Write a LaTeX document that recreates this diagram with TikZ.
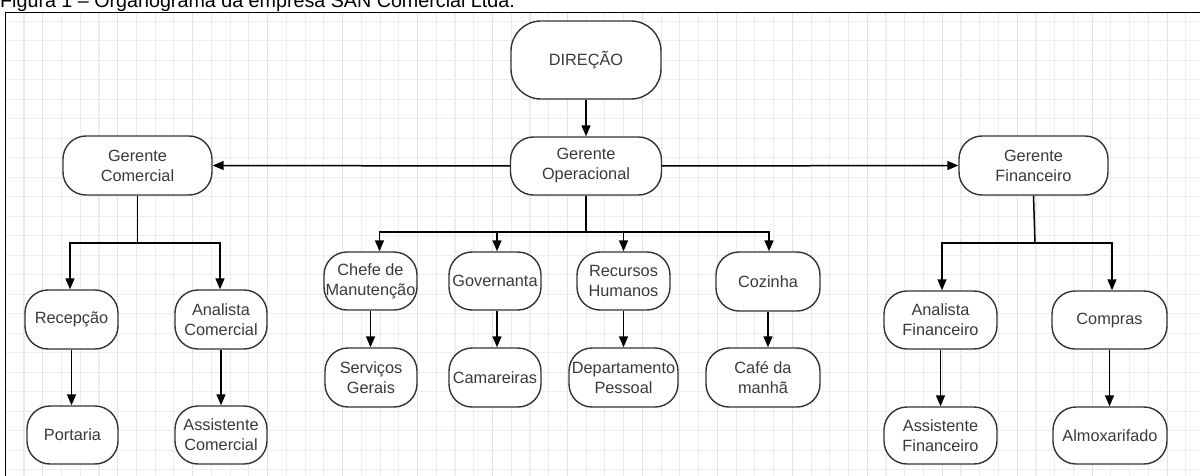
\documentclass[tikz,border=0pt]{standalone}
\usepackage{fontspec}
\setmainfont{Liberation Sans}
\usetikzlibrary{arrows.meta}
\definecolor{gridmin}{HTML}{EDEDED}
\definecolor{gridmaj}{HTML}{E2E2E2}
\definecolor{boxline}{HTML}{333333}
\definecolor{txt}{HTML}{3A3A3A}
\tikzset{
  orgbox/.style={draw=boxline, line width=1.4pt, fill=white, rounded corners=23pt,
    inner sep=0pt, align=center, text=txt,
    font=\fontsize{16.3}{20}\selectfont},
  link/.style={line width=1.5pt, draw=black},
  arr/.style={link, -{Triangle[length=11pt,width=9pt]}},
}
\begin{document}
\begin{tikzpicture}[x=1pt,y=-1pt]
\useasboundingbox (0,0) rectangle (1200,476);
\clip (0,0) rectangle (1200,476);
\fill[white] (0,0) rectangle (1200,476);
% grid
\foreach \i in {0,...,63} {
  \pgfmathsetmacro{\xx}{24+18.74*\i}
  \pgfmathtruncatemacro{\m}{mod(\i,4)}
  \ifnum\m=1
    \draw[gridmaj, line width=1.2pt] (\xx,12) -- (\xx,476);
  \else
    \draw[gridmin, line width=1.1pt] (\xx,12) -- (\xx,476);
  \fi
}
\foreach \j in {0,...,23} {
  \pgfmathsetmacro{\yy}{21.3+19.5*\j}
  \draw[gridmin, line width=1.1pt] (5,\yy) -- (1200,\yy);
}
% frame
\draw[black, line width=1pt] (5,476) -- (5,12.5) -- (1200,12.5);
% title
\node[anchor=base west, inner sep=0pt, font=\fontsize{19.7}{22}\selectfont] (title) at (0,7.5) {Figura 1 – Organograma da empresa SAN Comercial Ltda.};

% nodes
\node[orgbox, minimum width=150pt, minimum height=78pt, rounded corners=30pt] (dir) at (586,60) {DIREÇÃO};
\node[orgbox, minimum width=151pt, minimum height=58pt] (go) at (586,166) {Gerente\\Operacional};
\node[orgbox, minimum width=149pt, minimum height=59pt] (gc) at (137.5,165.5) {Gerente\\Comercial};
\node[orgbox, minimum width=149pt, minimum height=59pt] (gf) at (1033.5,165.5) {Gerente\\Financeiro};

\node[orgbox, minimum width=93pt, minimum height=59pt] (rec) at (71.5,319.5) {Recepção};
\node[orgbox, minimum width=92pt, minimum height=59pt] (ac) at (221,319.5) {Analista\\Comercial};
\node[orgbox, minimum width=91pt, minimum height=58pt] (por) at (72.5,435) {Portaria};
\node[orgbox, minimum width=92pt, minimum height=58pt] (asc) at (221,435) {Assistente\\Comercial};

\node[orgbox, minimum width=93pt, minimum height=58pt] (cm) at (370.5,281) {Chefe de\\Manutenção};
\node[orgbox, minimum width=92pt, minimum height=59pt] (sg) at (371,377.5) {Serviços\\Gerais};
\node[orgbox, minimum width=92pt, minimum height=58pt] (gov) at (495,281) {Governanta};
\node[orgbox, minimum width=92pt, minimum height=59pt] (cam) at (495,377.5) {Camareiras};
\node[orgbox, minimum width=93pt, minimum height=58pt] (rh) at (623.5,281) {Recursos\\Humanos};
\node[orgbox, minimum width=109pt, minimum height=59pt] (dp) at (623.5,377.5) {Departamento\\Pessoal};
\node[orgbox, minimum width=104pt, minimum height=59pt] (coz) at (768,281.5) {Cozinha};
\node[orgbox, minimum width=114pt, minimum height=59pt] (cafe) at (763,377.5) {Café da\\manhã};

\node[orgbox, minimum width=113pt, minimum height=58pt] (af) at (940.5,320) {Analista\\Financeiro};
\node[orgbox, minimum width=115pt, minimum height=58pt] (comp) at (1109.5,320) {Compras};
\node[orgbox, minimum width=113pt, minimum height=57pt] (asf) at (940.5,435.5) {Assistente\\Financeiro};
\node[orgbox, minimum width=114pt, minimum height=57pt] (alm) at (1110,435.5) {Almoxarifado};

% junction coordinates
\coordinate (gcj) at (137.5,243);
\coordinate (goj) at (586,232);
\coordinate (gfj) at (1035,243);

% connectors
\draw[arr] (dir.south) -- (go.north);
\draw[arr] (go.west) -- (gc.east);
\draw[arr] (go.east) -- (gf.west);

\draw[link] (gc.south) -- (gcj);
\draw[arr] (gcj) -| ([xshift=-1.5pt]rec.north);
\draw[arr] (gcj) -| ([xshift=-1pt]ac.north);
\draw[arr] (rec.south) -- (rec.south |- por.north);
\draw[arr] (ac.south) -- (ac.south |- asc.north);

\draw[link] (go.south) -- (goj);
\draw[arr] (goj) -| ([xshift=9pt]cm.north);
\draw[arr] (goj) -| ([xshift=2pt]gov.north);
\draw[arr] (goj) -| (rh.north);
\draw[arr] (goj) -| ([xshift=1pt]coz.north);
\draw[arr] (cm.south) -- (cm.south |- sg.north);
\draw[arr] ([xshift=2pt]gov.south) -- ([xshift=2pt]gov.south |- cam.north);
\draw[arr] (rh.south) -- (rh.south |- dp.north);
\draw[arr] (coz.south) -- (coz.south |- cafe.north);

\draw[link] (gf.south) -- (gfj);
\draw[arr] (gfj) -| ([xshift=1.5pt]af.north);
\draw[arr] (gfj) -| ([xshift=2.5pt]comp.north);
\draw[arr] (af.south) -- (af.south |- asf.north);
\draw[arr] (comp.south) -- (comp.south |- alm.north);
\end{tikzpicture}
\end{document}
